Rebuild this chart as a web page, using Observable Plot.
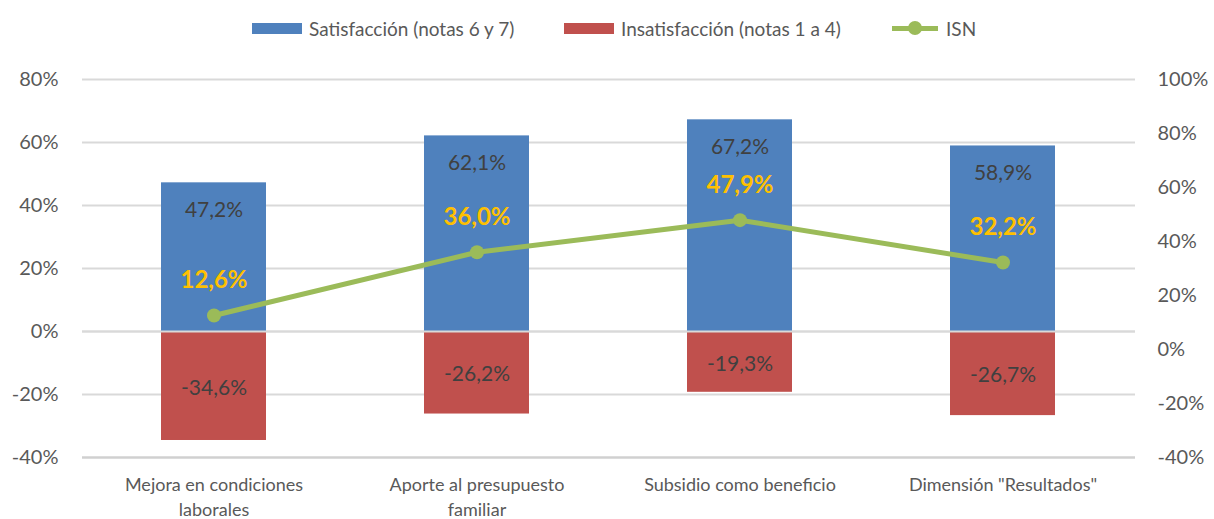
<!DOCTYPE html>
<html>
<head>
<meta charset="utf-8">
<script src="https://cdn.jsdelivr.net/npm/d3@7"></script>
<script src="https://cdn.jsdelivr.net/npm/@observablehq/plot@0.6"></script>
<style>
  html, body { margin: 0; padding: 0; background: #fff; }
  body { width: 1214px; height: 519px; overflow: hidden; font-family: Lato, "Open Sans", sans-serif; }
  #legend { position: relative; height: 45px; width: 1214px; font-size: 19px; color: #595959; }
  .item { position: absolute; top: 17px; display: flex; align-items: center; height: 22px; white-space: nowrap; }
  .sw { width: 50px; height: 11px; margin-right: 7px; }
  .ln { position: relative; width: 46px; height: 5px; background: #9BBB59; margin-right: 8px; }
  .ln::after { content: ""; position: absolute; left: 16px; top: -4.5px; width: 14px; height: 14px; border-radius: 50%; background: #9BBB59; }
  #chart svg { display: block; }
</style>
</head>
<body>
<div id="legend"></div>
<div id="chart"></div>
<script>
const categories = ["Mejora en condiciones laborales", "Aporte al presupuesto familiar", "Subsidio como beneficio", "Dimensión \"Resultados\""];
const categoryLabels = ["Mejora en condiciones\nlaborales", "Aporte al presupuesto\nfamiliar", "Subsidio como beneficio", "Dimensión \"Resultados\""];
const satisfaccion = [47.2, 62.1, 67.2, 58.9];
const insatisfaccion = [-34.6, -26.2, -19.3, -26.7];
const isn = [12.6, 36.0, 47.9, 32.2];
const leftTicks = [-40, -20, 0, 20, 40, 60, 80];
const rightTicks = [-40, -20, 0, 20, 40, 60, 80, 100];
const seriesNames = ["Satisfacción (notas 6 y 7)", "Insatisfacción (notas 1 a 4)", "ISN"];

const leftDomain = [-40, 80];
const rightDomain = [-40, 100];
// map a right-axis value onto the left-axis scale
const toLeft = v => leftDomain[0] + (v - rightDomain[0]) * (leftDomain[1] - leftDomain[0]) / (rightDomain[1] - rightDomain[0]);
const fmt = v => v.toFixed(1).replace(".", ",") + "%";

const data = categories.map((c, i) => ({cat: c, label: categoryLabels[i], sat: satisfaccion[i], ins: insatisfaccion[i], isn: isn[i], isnL: toLeft(isn[i])}));

// legend
const legend = document.getElementById("legend");
legend.innerHTML = `
  <div class="item" style="left:252px"><div class="sw" style="background:#4F81BD"></div>${seriesNames[0]}</div>
  <div class="item" style="left:564px"><div class="sw" style="background:#C0504D"></div>${seriesNames[1]}</div>
  <div class="item" style="left:892px"><div class="ln"></div>${seriesNames[2]}</div>`;

const labelOf = new Map(data.map(d => [d.cat, d.label]));

const chart = Plot.plot({
  width: 1214,
  height: 474,
  marginLeft: 82,
  marginRight: 79,
  marginTop: 34,
  marginBottom: 62,
  style: {fontFamily: "Lato, 'Open Sans', sans-serif", background: "#fff"},
  x: {domain: categories, paddingInner: 0.6, paddingOuter: 0.3},
  y: {domain: leftDomain},
  marks: [
    Plot.ruleY(leftTicks.filter(t => t !== -40), {stroke: "#D9D9D9", strokeWidth: 2}),
    Plot.barY(data, {x: "cat", y: "sat", fill: "#4F81BD"}),
    Plot.barY(data, {x: "cat", y: "ins", fill: "#C0504D"}),
    Plot.ruleY([0], {stroke: "#D9D9D9", strokeWidth: 2}),
    Plot.ruleY([-40], {stroke: "#D0D0D0", strokeWidth: 2.5}),
    Plot.axisY({ticks: leftTicks, tickSize: 0, tickPadding: 24, tickFormat: d => d + "%", fontSize: 20, color: "#595959", label: null}),
    Plot.axisY({anchor: "right", ticks: rightTicks.map(toLeft), tickSize: 0, tickPadding: 22, tickFormat: d => Math.round(rightDomain[0] + (d - leftDomain[0]) * (rightDomain[1] - rightDomain[0]) / (leftDomain[1] - leftDomain[0])) + "%", fontSize: 20, color: "#595959", label: null}),
    Plot.axisX({tickSize: 0, tickPadding: 16, tickFormat: d => labelOf.get(d), fontSize: 18, color: "#595959", lineHeight: 1.38, label: null}),
    Plot.text(data, {x: "cat", y: "sat", text: d => fmt(d.sat), dy: 27, fontSize: 21, fill: "#404040"}),
    Plot.text(data, {x: "cat", y: d => d.ins / 2, text: d => fmt(d.ins), dy: 2, fontSize: 21, fill: "#404040"}),
    Plot.line(data, {x: "cat", y: "isnL", stroke: "#9BBB59", strokeWidth: 5}),
    Plot.dot(data, {x: "cat", y: "isnL", r: 7, fill: "#9BBB59"}),
    Plot.text(data, {x: "cat", y: "isnL", text: d => fmt(d.isn), dy: -35, fontSize: 24, fontWeight: "bold", fill: "#FFC000"})
  ]
});
document.getElementById("chart").appendChild(chart);
</script>
</body>
</html>
